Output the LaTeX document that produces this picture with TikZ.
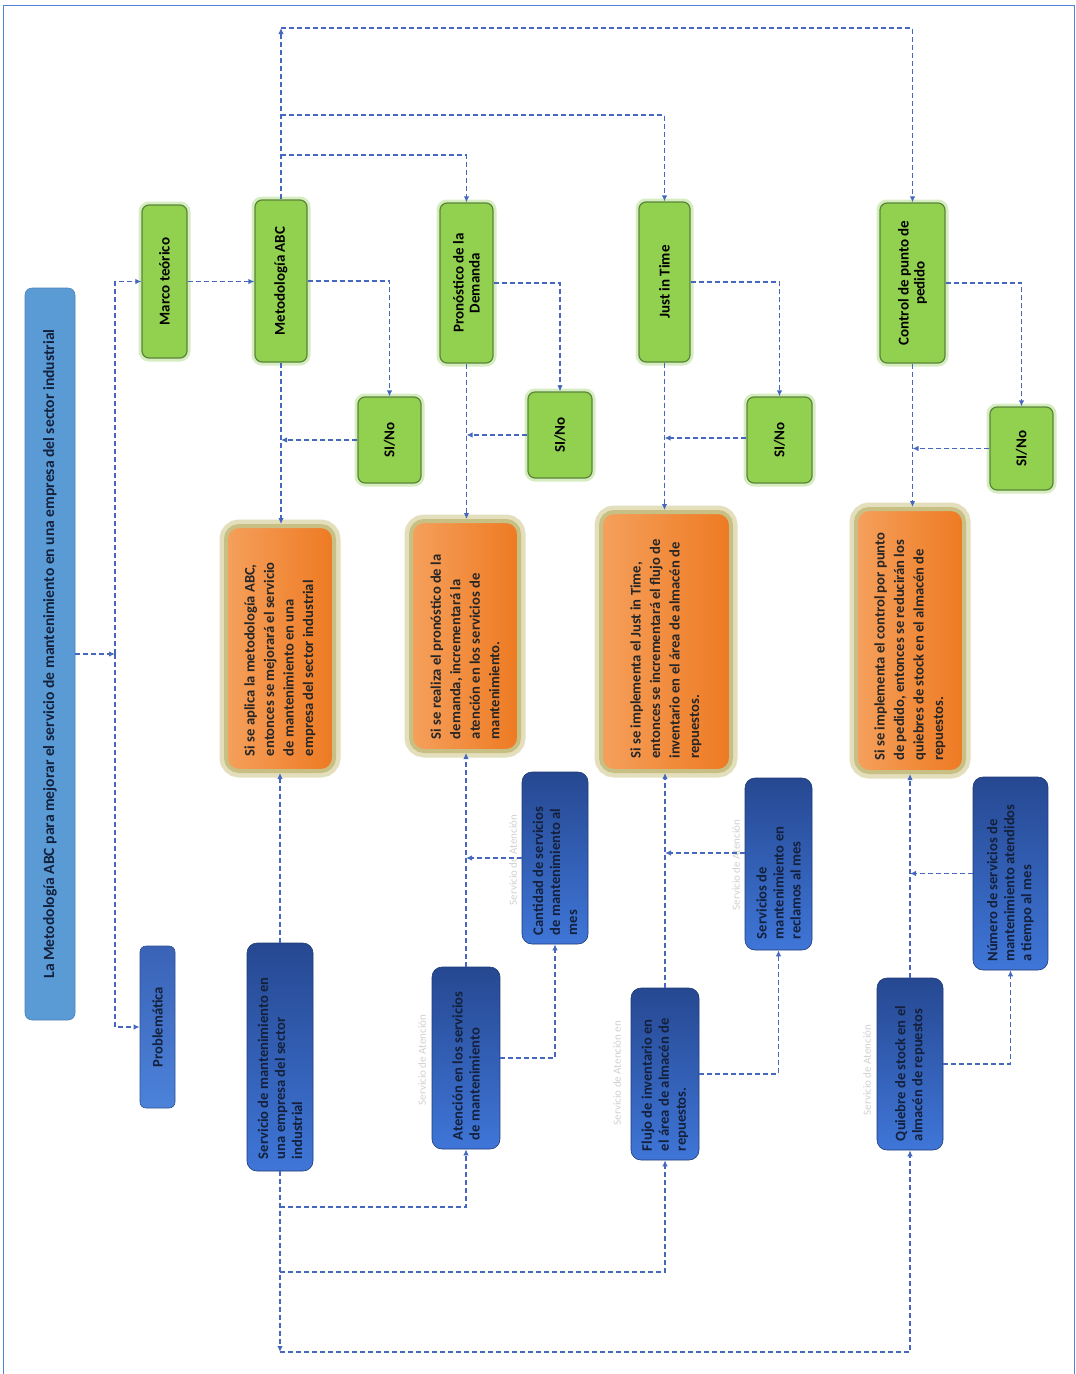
\documentclass[tikz,border=0pt]{standalone}
\usepackage{fontspec}
\setmainfont{Carlito}
\usetikzlibrary{arrows.meta}
\definecolor{frameblue}{HTML}{4F81D9}
\definecolor{lineblue}{HTML}{4568BE}
\definecolor{gfill}{HTML}{92D050}
\definecolor{gborder}{HTML}{5A8539}
\definecolor{gglow}{HTML}{D6EDC2}
\definecolor{oleft}{HTML}{F5A05C}
\definecolor{oright}{HTML}{EE7A22}
\definecolor{oglowa}{HTML}{E3DEBB}
\definecolor{oglowb}{HTML}{C7BF84}
\definecolor{btop}{HTML}{264891}
\definecolor{bbot}{HTML}{3F76D8}
\definecolor{ptop}{HTML}{3A63B6}
\definecolor{pbot}{HTML}{4C82DA}
\definecolor{tfill}{HTML}{5B9BD5}
\definecolor{ttext}{HTML}{14213D}
\definecolor{ghost}{HTML}{D0D0D0}
\newcommand\vtxt[2]{\rotatebox{90}{\parbox{#1}{#2}}}
\begin{document}
\begin{tikzpicture}[x=1pt,y=-1pt,
  conn/.style={draw=lineblue, dash pattern=on 5pt off 3pt, line width=1.8pt},
  arr/.style={conn, -{Latex[length=6pt,width=5.5pt]}},
  gbox/.style={rounded corners=7pt, draw=gborder, line width=1.2pt, fill=gfill,
    preaction={draw=gglow, line width=7pt}, inner sep=0pt,
    font=\fontsize{15}{16}\selectfont\bfseries},
  obox/.style={rounded corners=13pt, draw=oglowb, line width=4pt,
    left color=oleft, right color=oright,
    preaction={draw=oglowa, line width=13pt}, inner sep=0pt,
    font=\fontsize{14.6}{19.5}\selectfont\bfseries, text=black!85},
  bbox/.style={rounded corners=10pt, draw=btop!80!black, line width=0.6pt,
    top color=btop, bottom color=bbot, inner sep=0pt,
    font=\fontsize{14.6}{17}\selectfont\bfseries, text=ttext},
  pbox/.style={rounded corners=6pt, draw=ptop!80!black, line width=0.6pt,
    top color=ptop, bottom color=pbot, inner sep=0pt,
    font=\fontsize{14.6}{16}\selectfont\bfseries, text=ttext},
  tbox/.style={rounded corners=7pt, draw=tfill!85!black, line width=0.6pt,
    fill=tfill, inner sep=0pt, font=\fontsize{15.6}{17}\selectfont\bfseries, text=ttext},
  ghostlbl/.style={font=\fontsize{11}{12}\selectfont, text=ghost, inner sep=0pt}
]
\useasboundingbox (0,0) rectangle (1076,1374);
\draw[frameblue, line width=1pt] (3,1374) -- (3,5) -- (1074,5) -- (1074,1374);

% title
\node[tbox, minimum width=50pt, minimum height=732pt] (title) at (50,654)
  {\vtxt{710pt}{\centering La Metodología ABC para mejorar el servicio de mantenimiento en una empresa del sector industrial}};

% green row
\node[gbox, minimum width=45pt, minimum height=153pt] (marco) at (164.5,281.5) {\vtxt{140pt}{\centering Marco teórico}};
\node[gbox, minimum width=52pt, minimum height=162pt] (meto) at (281,281) {\vtxt{150pt}{\centering Metodología ABC}};
\node[gbox, minimum width=53pt, minimum height=160pt] (pron) at (466.5,283) {\vtxt{150pt}{\centering Pronóstico de la\\Demanda}};
\node[gbox, minimum width=51pt, minimum height=160pt] (jit) at (664.5,282) {\vtxt{150pt}{\centering Just in Time}};
\node[gbox, minimum width=65pt, minimum height=160pt] (ctrl) at (912.5,283) {\vtxt{150pt}{\centering Control de punto de\\pedido}};

\node[gbox, minimum width=63pt, minimum height=86pt] (sino1) at (389.5,440) {\vtxt{80pt}{\centering SI/No}};
\node[gbox, minimum width=64pt, minimum height=86pt] (sino2) at (560,435) {\vtxt{80pt}{\centering SI/No}};
\node[gbox, minimum width=65pt, minimum height=86pt] (sino3) at (779.5,440) {\vtxt{80pt}{\centering SI/No}};
\node[gbox, minimum width=63pt, minimum height=83pt] (sino4) at (1021.5,448.5) {\vtxt{80pt}{\centering SI/No}};

% orange row
\node[obox, minimum width=108pt, minimum height=245pt] (o1) at (280,648.5)
  {\vtxt{215pt}{\raggedright Si se aplica la metodología ABC,\\entonces se mejorará el servicio\\de mantenimiento en una\\empresa del sector industrial}};
\node[obox, minimum width=108pt, minimum height=230pt] (o2) at (465,636)
  {\vtxt{206pt}{\raggedright Si se realiza el pronóstico de la\\demanda, incrementará la\\atención en los servicios de\\mantenimiento.}};
\node[obox, minimum width=130pt, minimum height=259pt] (o3) at (666,641.5)
  {\vtxt{234pt}{\raggedright Si se implementa el Just in Time,\\entonces se incrementará el flujo de\\inventario en el área de almacén de\\repuestos.}};
\node[obox, minimum width=108pt, minimum height=263pt] (o4) at (910,640.5)
  {\vtxt{240pt}{\raggedright Si se implementa el control por punto\\de pedido, entonces se reducirán los\\quiebres de stock en el almacén de\\repuestos.}};

% blue row
\node[pbox, minimum width=35pt, minimum height=162pt] (prob) at (157.5,1027) {\vtxt{150pt}{\centering Problemática}};
\node[bbox, minimum width=66pt, minimum height=228pt] (serv) at (280,1057)
  {\vtxt{204pt}{\raggedright Servicio de mantenimiento en\\una empresa del sector\\industrial}};
\node[bbox, minimum width=68pt, minimum height=182pt] (aten) at (466,1058)
  {\vtxt{164pt}{\raggedright Atención en los servicios\\de mantenimiento}};
\node[bbox, minimum width=66pt, minimum height=172pt] (cant) at (555,858)
  {\vtxt{154pt}{\raggedright Cantidad de servicios\\de mantenimiento al\\mes}};
\node[bbox, minimum width=68pt, minimum height=172pt] (flujo) at (665,1074)
  {\vtxt{154pt}{\raggedright Flujo de inventario en\\el área de almacén de\\repuestos.}};
\node[bbox, minimum width=67pt, minimum height=172pt] (srec) at (778.5,864)
  {\vtxt{150pt}{\raggedright Servicios de\\mantenimiento en\\reclamos al mes}};
\node[bbox, minimum width=66pt, minimum height=172pt] (queb) at (910,1064)
  {\vtxt{154pt}{\raggedright Quiebre de stock en el\\almacén de repuestos}};
\node[bbox, minimum width=75pt, minimum height=193pt] (num) at (1010.5,873.5)
  {\vtxt{176pt}{\raggedright Número de servicios de\\mantenimiento atendidos\\a tiempo al mes}};

% ghost labels
\node[ghostlbl, rotate=90] (g1) at (422,1060) {Servicio de Atención};
\node[ghostlbl, rotate=90] (g2) at (513,860) {Servicio de Atención};
\node[ghostlbl, rotate=90] (g3) at (617,1073) {Servicio de Atención en};
\node[ghostlbl, rotate=90] (g4) at (736,865) {Servicio de Atención};
\node[ghostlbl, rotate=90] (g5) at (867,1070) {Servicio de Atención};

% title connectors
\coordinate (jn) at (115,654);
\draw[arr] (title.east) -- (jn);
\draw[arr] (jn) |- (marco.west);
\draw[arr] (jn) |- (prob.west);

% green row connectors
\draw[arr] (marco.east) -- (marco.east -| meto.west);
\draw[arr] (meto.east) -| (sino1.north);
\draw[arr] (sino1.west) -- (sino1.west -| meto.south);
\draw[arr] (meto.south) -- (meto.south |- o1.north);
\draw[arr] (pron.east) -| (sino2.north);
\draw[arr] (sino2.west) -- (sino2.west -| pron.south);
\draw[arr] (pron.south) -- (pron.south |- o2.north);
\draw[arr] (jit.east) -| (sino3.north);
\draw[arr] ([yshift=2pt]sino3.west) -- ([yshift=2pt]sino3.west -| jit.south);
\draw[arr] (jit.south) -- (jit.south |- o3.north);
\draw[arr] (ctrl.east) -| (sino4.north);
\draw[arr] (sino4.west) -- (sino4.west -| ctrl.south);
\draw[arr] (ctrl.south) -- (ctrl.south |- o4.north);

% top connectors
\coordinate (t0) at (281,28);
\coordinate (t1) at (281,115);
\coordinate (t2) at (281,155);
\draw[arr] (meto.north) -- (t0);
\draw[arr] (t0) -| (ctrl.north);
\draw[arr] (t1) -| (jit.north);
\draw[arr] (t2) -| (pron.north);

% blue row connectors
\draw[arr] (serv.north) -- (serv.north |- o1.south);
\draw[arr] (aten.north) -- (aten.north |- o2.south);
\draw[arr] (aten.east) -| (cant.south);
\draw[arr] (cant.west) -- (cant.west -| aten.north);
\draw[arr] (flujo.north) -- (flujo.north |- o3.south);
\draw[arr] (flujo.east) -| (srec.south);
\draw[arr] ([yshift=11pt]srec.west) -- ([yshift=11pt]srec.west -| flujo.north);
\draw[arr] (queb.north) -- (queb.north |- o4.south);
\draw[arr] (queb.east) -| (num.south);
\draw[arr] (num.west) -- (num.west -| queb.north);

% bottom connectors
\coordinate (b1) at (280,1207);
\coordinate (b2) at (280,1272);
\coordinate (b3) at (280,1352);
\draw[arr] (serv.south) -- (b3);
\draw[arr] (b1) -| (aten.south);
\draw[arr] (b2) -| (flujo.south);
\draw[arr] (b3) -| (queb.south);
\end{tikzpicture}
\end{document}
